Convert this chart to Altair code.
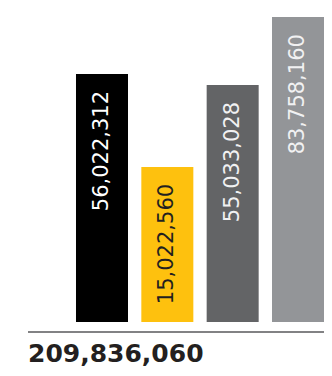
import altair as alt
import pandas as pd

# Data
categories = ["A", "B", "C", "D"]
values = [56022312, 15022560, 55033028, 83758160]
# apparent bar heights, as % of the plot height (the infographic is not drawn to scale)
bar_height_pct = [79.0, 49.4, 75.5, 97.1]
bar_colors = ["#000000", "#FEC10E", "#636466", "#939598"]
label_colors = ["#FFFFFF", "#231F20", "#F1F1F2", "#F1F1F2"]

df = pd.DataFrame({
    "cat": categories,
    "value": values,
    "h": bar_height_pct,
    "label": [f"{v:,}" for v in values],
    "label_color": label_colors,
})
total_df = pd.DataFrame({"total": [f"{sum(values):,}"]})

x = alt.X("cat:N", axis=None,
          scale=alt.Scale(domain=categories, range=[61.33, 322.67],
                          paddingInner=0.204, paddingOuter=0.102))
y = alt.Y("h:Q", axis=None, scale=alt.Scale(domain=[0, 100]))

bars = alt.Chart(df).mark_bar().encode(
    x=x, y=y,
    color=alt.Color("cat:N", scale=alt.Scale(domain=categories, range=bar_colors), legend=None),
)

labels = alt.Chart(df).mark_text(
    angle=270, align="right", baseline="middle", dx=-17,
    font="DejaVu Sans", fontSize=21,
).encode(
    x=x, y=y, text="label:N",
    color=alt.Color("label_color:N", scale=None),
)

rule = alt.Chart(total_df).mark_rule(color="#58595B", strokeWidth=1.5).encode(
    x=alt.value(20), x2=alt.value(316), y=alt.value(324)
)

total = alt.Chart(total_df).mark_text(
    align="left", baseline="alphabetic", font="DejaVu Sans", fontWeight="bold",
    fontSize=25, color="#231F20",
).encode(x=alt.value(20), y=alt.value(354), text="total:N")

chart = alt.layer(bars, labels, rule, total).properties(
    width=316, height=314,
    autosize=alt.AutoSizeParams(type="none"),
    padding={"left": 0, "top": 0, "right": 0, "bottom": 46},
).configure_view(strokeWidth=0)

chart.save("out.html", embed_options={"renderer": "svg", "actions": False})
